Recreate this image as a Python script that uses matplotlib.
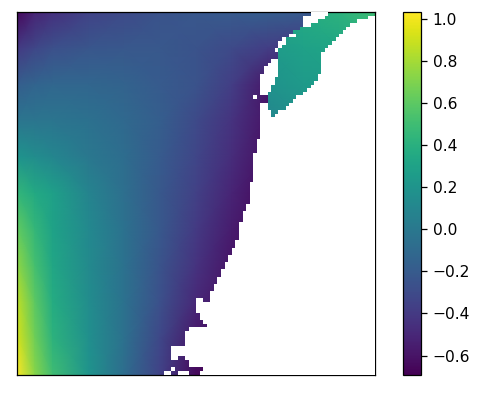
import numpy as np
import matplotlib
matplotlib.use("Agg")
import matplotlib.pyplot as plt
from matplotlib.colors import ListedColormap
from matplotlib.path import Path

W, H = 486, 393
N = 100

# sampled field
col_pts = [0, 5, 10, 20, 30, 40, 50, 60, 70, 80, 100]
row_pts = [0, 10, 20, 30, 40, 50, 60, 70, 80, 90, 100]
field = [
    [-0.65, -0.52, -0.45, -0.35, -0.30, -0.25, -0.22, -0.20, -0.18, -0.20, -0.20],
    [-0.40, -0.32, -0.27, -0.23, -0.22, -0.22, -0.25, -0.30, -0.38, -0.40, -0.40],
    [-0.18, -0.14, -0.12, -0.13, -0.15, -0.20, -0.25, -0.38, -0.58, -0.60, -0.60],
    [-0.02, -0.02, -0.02, -0.05, -0.11, -0.18, -0.30, -0.44, -0.60, -0.65, -0.65],
    [0.20, 0.15, 0.10, 0.00, -0.08, -0.20, -0.33, -0.47, -0.62, -0.65, -0.65],
    [0.45, 0.35, 0.28, 0.09, -0.07, -0.22, -0.36, -0.52, -0.65, -0.65, -0.65],
    [0.62, 0.45, 0.30, 0.12, -0.05, -0.22, -0.40, -0.56, -0.65, -0.65, -0.65],
    [0.75, 0.52, 0.33, 0.13, -0.05, -0.25, -0.44, -0.60, -0.65, -0.65, -0.65],
    [0.87, 0.60, 0.37, 0.15, -0.05, -0.27, -0.50, -0.62, -0.65, -0.65, -0.65],
    [0.93, 0.65, 0.42, 0.17, -0.06, -0.32, -0.58, -0.65, -0.65, -0.65, -0.65],
    [1.03, 0.72, 0.50, 0.20, -0.08, -0.35, -0.65, -0.65, -0.65, -0.65, -0.65],
]

# gulf has its own values
gulf_cols = [70, 80, 90, 100]
gulf_rows = [0, 10, 20, 30]
gulf_field = [
    [0.32, 0.36, 0.42, 0.50],
    [0.24, 0.29, 0.32, 0.34],
    [0.18, 0.24, 0.26, 0.28],
    [0.10, 0.18, 0.22, 0.24],
]

# first cell of land at the right, rows 0-29
gulf_right = [100, 98, 95, 93, 92, 91, 90, 89, 88, 87,
              86, 85, 85, 85, 85, 85, 85, 84, 84, 83,
              82, 81, 80, 78, 77, 76, 75, 73, 72, 72]
# first cell of the gulf, rows 0-29
gulf_left = [87, 86, 84, 82, 79, 77, 76, 75, 74, 73,
             73, 73, 73, 73, 73, 73, 73, 73, 72, 72,
             71, 71, 70, 70, 70, 70, 70, 71, 71, 72]
# first cell of land on the main coast, rows 30-99
coast = [68, 68, 68, 68, 68, 67, 67, 67, 67, 66,
         66, 66, 66, 66, 66, 66, 66, 65, 65, 65,
         65, 65, 65, 64, 64, 63, 63, 63, 62, 62,
         62, 62, 62, 61, 61, 60, 60, 59, 59, 58,
         58, 57, 57, 56, 56, 55, 55, 54, 54, 54,
         50, 50, 50, 51, 51, 52, 53, 48, 47, 47,
         47, 47, 43, 43, 43, 47, 48, 48, 52, 51]
# other bits of land: row, first cell, end cell
land_bits = [(0, 82, 87), (1, 80, 86), (2, 80, 84), (3, 80, 82),
             (6, 76, 78), (7, 74, 75), (8, 73, 75), (9, 73, 74), (10, 72, 73),
             (13, 71, 73), (14, 70, 73), (15, 69, 73), (16, 69, 73), (17, 68, 73),
             (18, 68, 72), (19, 68, 72), (20, 68, 71), (21, 68, 71), (22, 68, 70),
             (23, 66, 67), (25, 68, 70), (26, 68, 70), (27, 68, 71), (28, 68, 71),
             (29, 68, 72), (79, 50, 52), (95, 43, 45), (98, 43, 44), (99, 41, 43),
             (99, 45, 48)]

land = np.zeros((N, N), dtype=bool)
for r, c in enumerate(gulf_right):
    land[r, c:] = True
for r, c in enumerate(coast):
    land[r + 30, c:] = True
for r, c0, c1 in land_bits:
    land[r, c0:c1] = True

fig = plt.figure(figsize=(W / 100, H / 100), dpi=100)
ax = fig.add_axes([17 / W, 1 - 374.5 / H, 358 / W, 362.5 / H])
cax = fig.add_axes([403 / W, 1 - 374.5 / H, 18 / W, 362.5 / H])

vmin, vmax = -0.69, 1.033
mesh = ax.pcolormesh(col_pts, row_pts, np.array(field), shading="gouraud",
                     cmap="viridis", vmin=vmin, vmax=vmax)
gulf = ax.pcolormesh(gulf_cols, gulf_rows, np.array(gulf_field), shading="gouraud",
                     cmap="viridis", vmin=vmin, vmax=vmax)

# gulf is only drawn on its own cells
verts, codes = [], []
for r in range(30):
    l, rt = gulf_left[r], gulf_right[r]
    verts += [(l, r), (rt, r), (rt, r + 1), (l, r + 1), (l, r)]
    codes += [Path.MOVETO, Path.LINETO, Path.LINETO, Path.LINETO, Path.CLOSEPOLY]
gulf.set_clip_path(Path(verts, codes), transform=ax.transData)

ax.pcolormesh(np.arange(N + 1), np.arange(N + 1), np.ma.masked_where(~land, land.astype(float)),
              cmap=ListedColormap(["white"]), antialiased=False, zorder=3)
ax.set_xlim(0, N)
ax.set_ylim(N, 0)
ax.set_xticks([])
ax.set_yticks([])

cb = fig.colorbar(mesh, cax=cax)
cb.set_ticks([-0.6, -0.4, -0.2, 0.0, 0.2, 0.4, 0.6, 0.8, 1.0])
cax.tick_params(labelsize=11.2, length=4, width=0.9, pad=4.5)

for a in (ax, cax):
    for s in a.spines.values():
        s.set_linewidth(0.9)
cb.outline.set_linewidth(0.9)

fig.savefig("out.png", dpi=100)
